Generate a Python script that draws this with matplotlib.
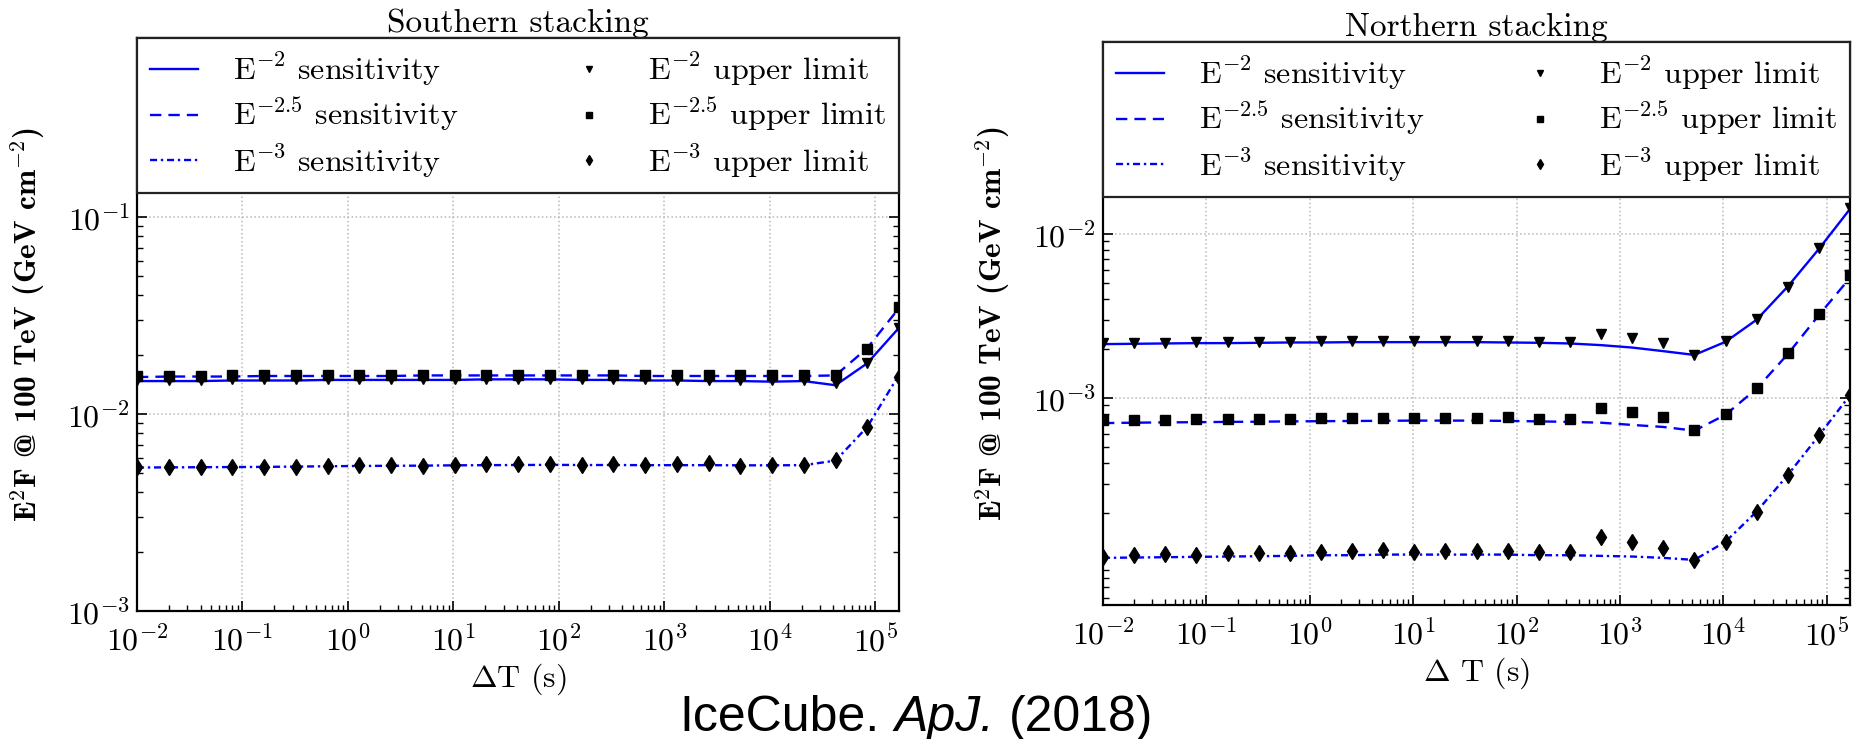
import matplotlib
matplotlib.use('Agg')
import matplotlib.pyplot as plt
from matplotlib.ticker import LogLocator, NullFormatter
import numpy as np

plt.rcParams['font.family'] = 'serif'
plt.rcParams['font.serif'] = ['cmr10', 'DejaVu Serif']
plt.rcParams['mathtext.fontset'] = 'cm'
plt.rcParams['axes.unicode_minus'] = False
plt.rcParams['axes.formatter.use_mathtext'] = True

# time windows (s)
dt = [0.01, 0.02, 0.04, 0.08, 0.16, 0.32, 0.64, 1.28, 2.56, 5.12, 10.24, 20.48,
      40.96, 81.92, 163.84, 327.68, 655.36, 1310.72, 2621.44, 5242.88,
      10485.76, 20971.52, 41943.04, 83886.08, 167772.16]

# southern stacking
s_sens2 = [0.0147, 0.0147, 0.0147, 0.0148, 0.0148, 0.0148, 0.0149, 0.0149, 0.0149,
           0.0149, 0.0149, 0.0150, 0.0150, 0.0150, 0.0149, 0.0149, 0.0148, 0.0148,
           0.0147, 0.0147, 0.0146, 0.0147, 0.0140, 0.0181, 0.0274]
s_ul2 = [0.0149, 0.0149, 0.0149, 0.0150, 0.0150, 0.0150, 0.0150, 0.0150, 0.0151,
         0.0151, 0.0151, 0.0151, 0.0151, 0.0151, 0.0150, 0.0150, 0.0150, 0.0149,
         0.0149, 0.0149, 0.0148, 0.0149, 0.0144, 0.0182, 0.0274]
s_sens25 = [0.0154, 0.0155, 0.0155, 0.0155, 0.0156, 0.0156, 0.0156, 0.0156, 0.0156,
            0.0157, 0.0157, 0.0157, 0.0157, 0.0157, 0.0157, 0.0157, 0.0156, 0.0156,
            0.0156, 0.0156, 0.0156, 0.0156, 0.0157, 0.0216, 0.0345]
s_ul25 = [0.0156, 0.0156, 0.0156, 0.0157, 0.0157, 0.0157, 0.0157, 0.0158, 0.0158,
          0.0158, 0.0158, 0.0158, 0.0158, 0.0158, 0.0158, 0.0158, 0.0157, 0.0157,
          0.0157, 0.0157, 0.0157, 0.0157, 0.0158, 0.0215, 0.0350]
s_sens3 = [0.00535, 0.00536, 0.00537, 0.00538, 0.00539, 0.00541, 0.00543, 0.00545,
           0.00546, 0.00547, 0.00549, 0.00550, 0.00551, 0.00552, 0.00551, 0.00551,
           0.00550, 0.00550, 0.00550, 0.00549, 0.00549, 0.00550, 0.00580, 0.0086, 0.0158]
s_ul3 = [0.00538, 0.00540, 0.00537, 0.00540, 0.00540, 0.00540, 0.00547, 0.00551,
         0.00549, 0.00547, 0.00553, 0.00555, 0.00555, 0.00557, 0.00549, 0.00557,
         0.00551, 0.00555, 0.00564, 0.00547, 0.00551, 0.00551, 0.00584, 0.00862, 0.0155]

# northern stacking
n_sens2 = [0.00213, 0.00214, 0.00215, 0.00216, 0.00216, 0.00217, 0.00218, 0.00218,
           0.00219, 0.00219, 0.00219, 0.00219, 0.00219, 0.00218, 0.00217, 0.00215,
           0.00210, 0.00203, 0.00193, 0.00183, 0.00220, 0.00300, 0.00478, 0.0081, 0.0142]
n_ul2 = [0.00216, 0.00216, 0.00217, 0.00219, 0.00218, 0.00219, 0.00220, 0.00221,
         0.00221, 0.00221, 0.00222, 0.00222, 0.00221, 0.00221, 0.00220, 0.00219,
         0.00245, 0.00232, 0.00216, 0.00183, 0.00222, 0.00302, 0.00478, 0.0082, 0.0143]
n_sens25 = [7.03e-4, 7.07e-4, 7.10e-4, 7.12e-4, 7.15e-4, 7.17e-4, 7.20e-4, 7.22e-4,
            7.24e-4, 7.26e-4, 7.28e-4, 7.28e-4, 7.28e-4, 7.25e-4, 7.20e-4, 7.15e-4,
            7.07e-4, 6.85e-4, 6.66e-4, 6.32e-4, 7.90e-4, 1.14e-3, 1.85e-3, 3.20e-3, 5.40e-3]
n_ul25 = [7.30e-4, 7.34e-4, 7.34e-4, 7.45e-4, 7.40e-4, 7.42e-4, 7.45e-4, 7.55e-4,
          7.55e-4, 7.60e-4, 7.55e-4, 7.60e-4, 7.58e-4, 7.70e-4, 7.45e-4, 7.45e-4,
          8.70e-4, 8.25e-4, 7.70e-4, 6.35e-4, 7.95e-4, 1.15e-3, 1.88e-3, 3.25e-3, 5.60e-3]
n_sens3 = [1.06e-4, 1.065e-4, 1.07e-4, 1.075e-4, 1.08e-4, 1.085e-4, 1.09e-4, 1.10e-4,
           1.10e-4, 1.11e-4, 1.11e-4, 1.11e-4, 1.11e-4, 1.11e-4, 1.10e-4, 1.10e-4,
           1.09e-4, 1.08e-4, 1.06e-4, 1.03e-4, 1.33e-4, 2.03e-4, 3.39e-4, 5.90e-4, 1.04e-3]
n_ul3 = [1.08e-4, 1.10e-4, 1.12e-4, 1.11e-4, 1.13e-4, 1.14e-4, 1.14e-4, 1.15e-4,
         1.16e-4, 1.18e-4, 1.15e-4, 1.16e-4, 1.16e-4, 1.17e-4, 1.15e-4, 1.15e-4,
         1.43e-4, 1.33e-4, 1.22e-4, 1.03e-4, 1.33e-4, 2.03e-4, 3.40e-4, 5.95e-4, 1.05e-3]

blue = '#0000ff'
dash = (0, (4.8, 3))
dashdot = (0, (3, 1.6, 1, 1.6))

fig = plt.figure(figsize=(18.66, 7.39), dpi=100)
ax1 = fig.add_axes([137 / 1866, 1 - 611 / 739, 762 / 1866, 573 / 739])
ax2 = fig.add_axes([1103 / 1866, 1 - 605 / 739, 747 / 1866, 563 / 739])

panels = [
    (ax1, 'Southern stacking', r'$\Delta$T (s)', s_sens2, s_sens25, s_sens3,
     s_ul2, s_ul25, s_ul3, (1e-3, 0.811), [1e-3, 1e-2, 1e-1], 155 / 573),
    (ax2, 'Northern stacking', r'$\Delta$ T (s)', n_sens2, n_sens25, n_sens3,
     n_ul2, n_ul25, n_ul3, (5.47e-5, 0.148), [1e-3, 1e-2], 151 / 563),
]

for ax, title, xlab, se2, se25, se3, ul2, ul25, ul3, ylim, yt, lh in panels:
    ax.plot(dt, se2, '-', color=blue, lw=1.7, label=r'E$^{-2}$ sensitivity')
    ax.plot(dt, se25, linestyle=dash, color=blue, lw=1.7, label=r'E$^{-2.5}$ sensitivity')
    ax.plot(dt, se3, linestyle=dashdot, color=blue, lw=1.7, label=r'E$^{-3}$ sensitivity')
    ax.plot(dt, ul2, 'v', color='k', ms=7.5, label=r'E$^{-2}$ upper limit')
    ax.plot(dt, ul25, 's', color='k', ms=6.5, label=r'E$^{-2.5}$ upper limit')
    ax.plot(dt, ul3, 'd', color='k', ms=8, label=r'E$^{-3}$ upper limit')

    ax.set_xscale('log')
    ax.set_yscale('log')
    ax.set_xlim(dt[0], dt[-1])
    ax.set_ylim(*ylim)
    ax.set_xticks([1e-2, 1e-1, 1e0, 1e1, 1e2, 1e3, 1e4, 1e5])
    ax.set_yticks(yt)
    ax.xaxis.set_minor_locator(LogLocator(base=10, subs=np.arange(2, 10), numticks=100))
    ax.yaxis.set_minor_locator(LogLocator(base=10, subs=np.arange(2, 10), numticks=100))
    ax.xaxis.set_minor_formatter(NullFormatter())
    ax.yaxis.set_minor_formatter(NullFormatter())
    ax.tick_params(which='both', direction='in', top=True, right=True, labelsize=23)
    ax.tick_params(which='major', length=7, width=1.2)
    ax.tick_params(which='minor', length=4, width=1)
    ax.tick_params(axis='x', which='major', pad=10)
    ax.tick_params(axis='y', which='major', pad=5)
    ax.grid(True, which='major', linestyle=':', color='#b8b8b8', lw=1.1)
    for sp in ax.spines.values():
        sp.set_linewidth(1.6)

    ax.set_title(title, fontsize=24, pad=2)
    ax.set_xlabel(xlab, fontsize=23, labelpad=3)
    ax.set_ylabel(r'E$^2$F @ 100 TeV (GeV cm$^{-2}$)', fontsize=22.5,
                  fontfamily='cmb10')

    leg = ax.legend(loc='upper left', bbox_to_anchor=(0, 1 - lh, 1, lh), mode='expand',
                    ncol=2, borderaxespad=0, fontsize=23, numpoints=1,
                    markerscale=0.6, handlelength=1.5, handletextpad=1.1,
                    labelspacing=0.25, borderpad=0.4,
                    fancybox=False, framealpha=1, edgecolor='#222222')
    leg.get_frame().set_linewidth(1.6)

ax1.yaxis.set_label_coords(-0.117, 0.5)
ax2.yaxis.set_label_coords(-0.120, 0.5)

# footer reference line
t1 = fig.text(679 / 1866, 1 - 731 / 739, 'IceCube.', fontsize=36,
              family='Liberation Sans', ha='left', va='baseline')
t2 = plt.annotate('ApJ.', xy=(1, 0), xycoords=t1, xytext=(15, 0),
                  textcoords='offset pixels', fontsize=36, family='Liberation Sans',
                  style='italic', ha='left', va='bottom', annotation_clip=False)
t3 = plt.annotate('(2018)', xy=(1, 0), xycoords=t2, xytext=(15, 0),
                  textcoords='offset pixels', fontsize=36, family='Liberation Sans',
                  ha='left', va='bottom', annotation_clip=False)

fig.savefig('out.png', dpi=100)
